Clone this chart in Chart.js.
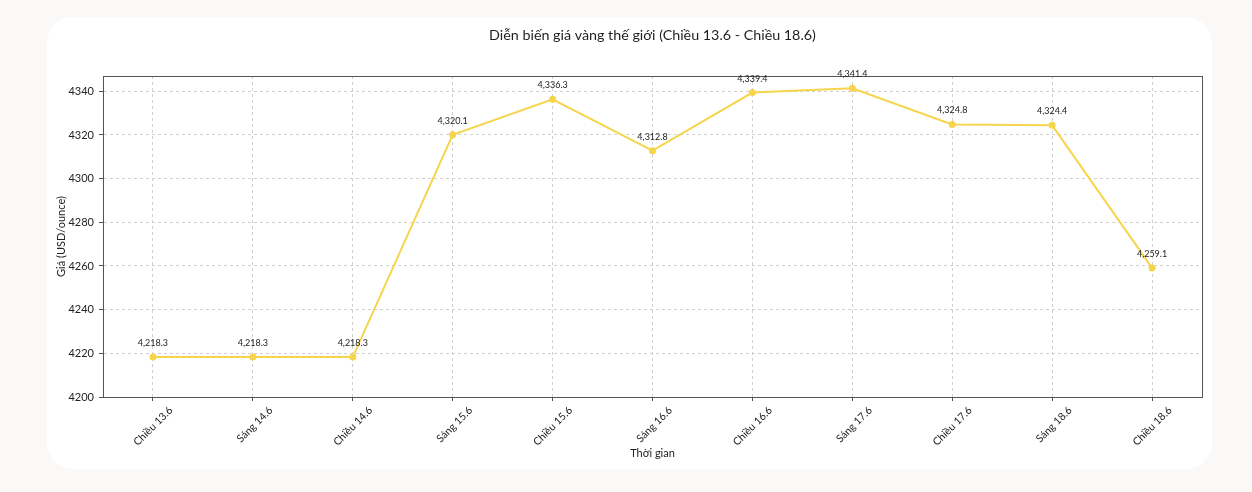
<!DOCTYPE html>
<html>
<head>
<meta charset="utf-8">
<script src="https://cdn.jsdelivr.net/npm/chart.js@4"></script>
<style>
  html, body { margin: 0; padding: 0; background: #fbf8f8; }
  #wrap { position: relative; width: 1252px; height: 492px; }
  #card { position: absolute; left: 47px; top: 17px; width: 1165px; height: 452px; background: #ffffff; border-radius: 26px; }
  canvas { position: absolute; left: 0; top: 0; }
</style>
</head>
<body>
<div id="wrap">
  <div id="card"></div>
  <canvas id="c" width="1252" height="492"></canvas>
</div>
<script>
const categories = ['Chiều 13.6', 'Sáng 14.6', 'Chiều 14.6', 'Sáng 15.6', 'Chiều 15.6', 'Sáng 16.6', 'Chiều 16.6', 'Sáng 17.6', 'Chiều 17.6', 'Sáng 18.6', 'Chiều 18.6'];
const prices = [4218.3, 4218.3, 4218.3, 4320.1, 4336.3, 4312.8, 4339.4, 4341.4, 4324.8, 4324.4, 4259.1];
const chartTitle = 'Diễn biến giá vàng thế giới (Chiều 13.6 - Chiều 18.6)';
const xTitle = 'Thời gian';
const yTitle = 'Giá (USD/ounce)';
const yMin = 4200, yMax = 4347, yStep = 20;

const FONT = 'Lato, "Open Sans", sans-serif';
const LINE = '#f6d54c';

const decor = {
  id: 'decor',
  afterDatasetsDraw(chart) {
    const ctx = chart.ctx, a = chart.chartArea;
    ctx.save();
    ctx.setLineDash([]);
    ctx.strokeStyle = '#555555';
    ctx.lineWidth = 1;
    ctx.strokeRect(Math.round(a.left) + 0.5, Math.round(a.top) + 0.5, Math.round(a.right - a.left), Math.round(a.bottom - a.top));
    const meta = chart.getDatasetMeta(0);
    ctx.fillStyle = '#222222';
    ctx.font = '9px ' + FONT;
    ctx.textAlign = 'center';
    ctx.textBaseline = 'middle';
    meta.data.forEach((pt, i) => {
      const txt = prices[i].toLocaleString('en-US', { minimumFractionDigits: 1, maximumFractionDigits: 1 });
      ctx.fillText(txt, pt.x, pt.y - 14);
    });
    ctx.fillStyle = '#1f1f1f';
    ctx.font = '14.3px ' + FONT;
    ctx.fillText(chartTitle, (a.left + a.right) / 2, 35);
    ctx.restore();
  }
};

new Chart(document.getElementById('c'), {
  type: 'line',
  data: {
    labels: categories,
    datasets: [{
      data: prices,
      borderColor: LINE,
      backgroundColor: LINE,
      borderWidth: 2,
      pointRadius: 3.5,
      pointBackgroundColor: LINE,
      pointBorderWidth: 0,
      tension: 0,
      fill: false
    }]
  },
  options: {
    responsive: false,
    animation: false,
    layout: { padding: { left: 47, right: 50, top: 76, bottom: 24 } },
    plugins: { legend: { display: false }, tooltip: { enabled: false }, title: { display: false } },
    scales: {
      x: {
        offset: true,
        afterFit(s) { s.height = 71; },
        grid: { display: true, color: '#d0d0d0', offset: false, drawTicks: true, tickLength: 4, tickColor: '#555', tickBorderDash: [] },
        border: { display: true, color: '#555555', dash: [3, 3] },
        ticks: { color: '#222', font: { family: FONT, size: 10.5 }, minRotation: 45, maxRotation: 45, autoSkip: false, labelOffset: 18, padding: 3 },
        title: { display: true, text: xTitle, color: '#222', font: { family: FONT, size: 11 }, padding: { top: 0, bottom: 8 } }
      },
      y: {
        min: yMin, max: yMax,
        afterFit(s) { s.width = 56; },
        grid: { display: true, color: '#d0d0d0', drawTicks: true, tickLength: 4, tickColor: '#555', tickBorderDash: [] },
        border: { display: true, color: '#555555', dash: [3, 3] },
        ticks: { stepSize: yStep, includeBounds: false, color: '#222', font: { family: FONT, size: 11 }, padding: 5, callback: v => String(v) },
        title: { display: true, text: yTitle, color: '#222', font: { family: FONT, size: 11 }, padding: { top: 8, bottom: 0 } }
      }
    }
  },
  plugins: [decor]
});
</script>
</body>
</html>
